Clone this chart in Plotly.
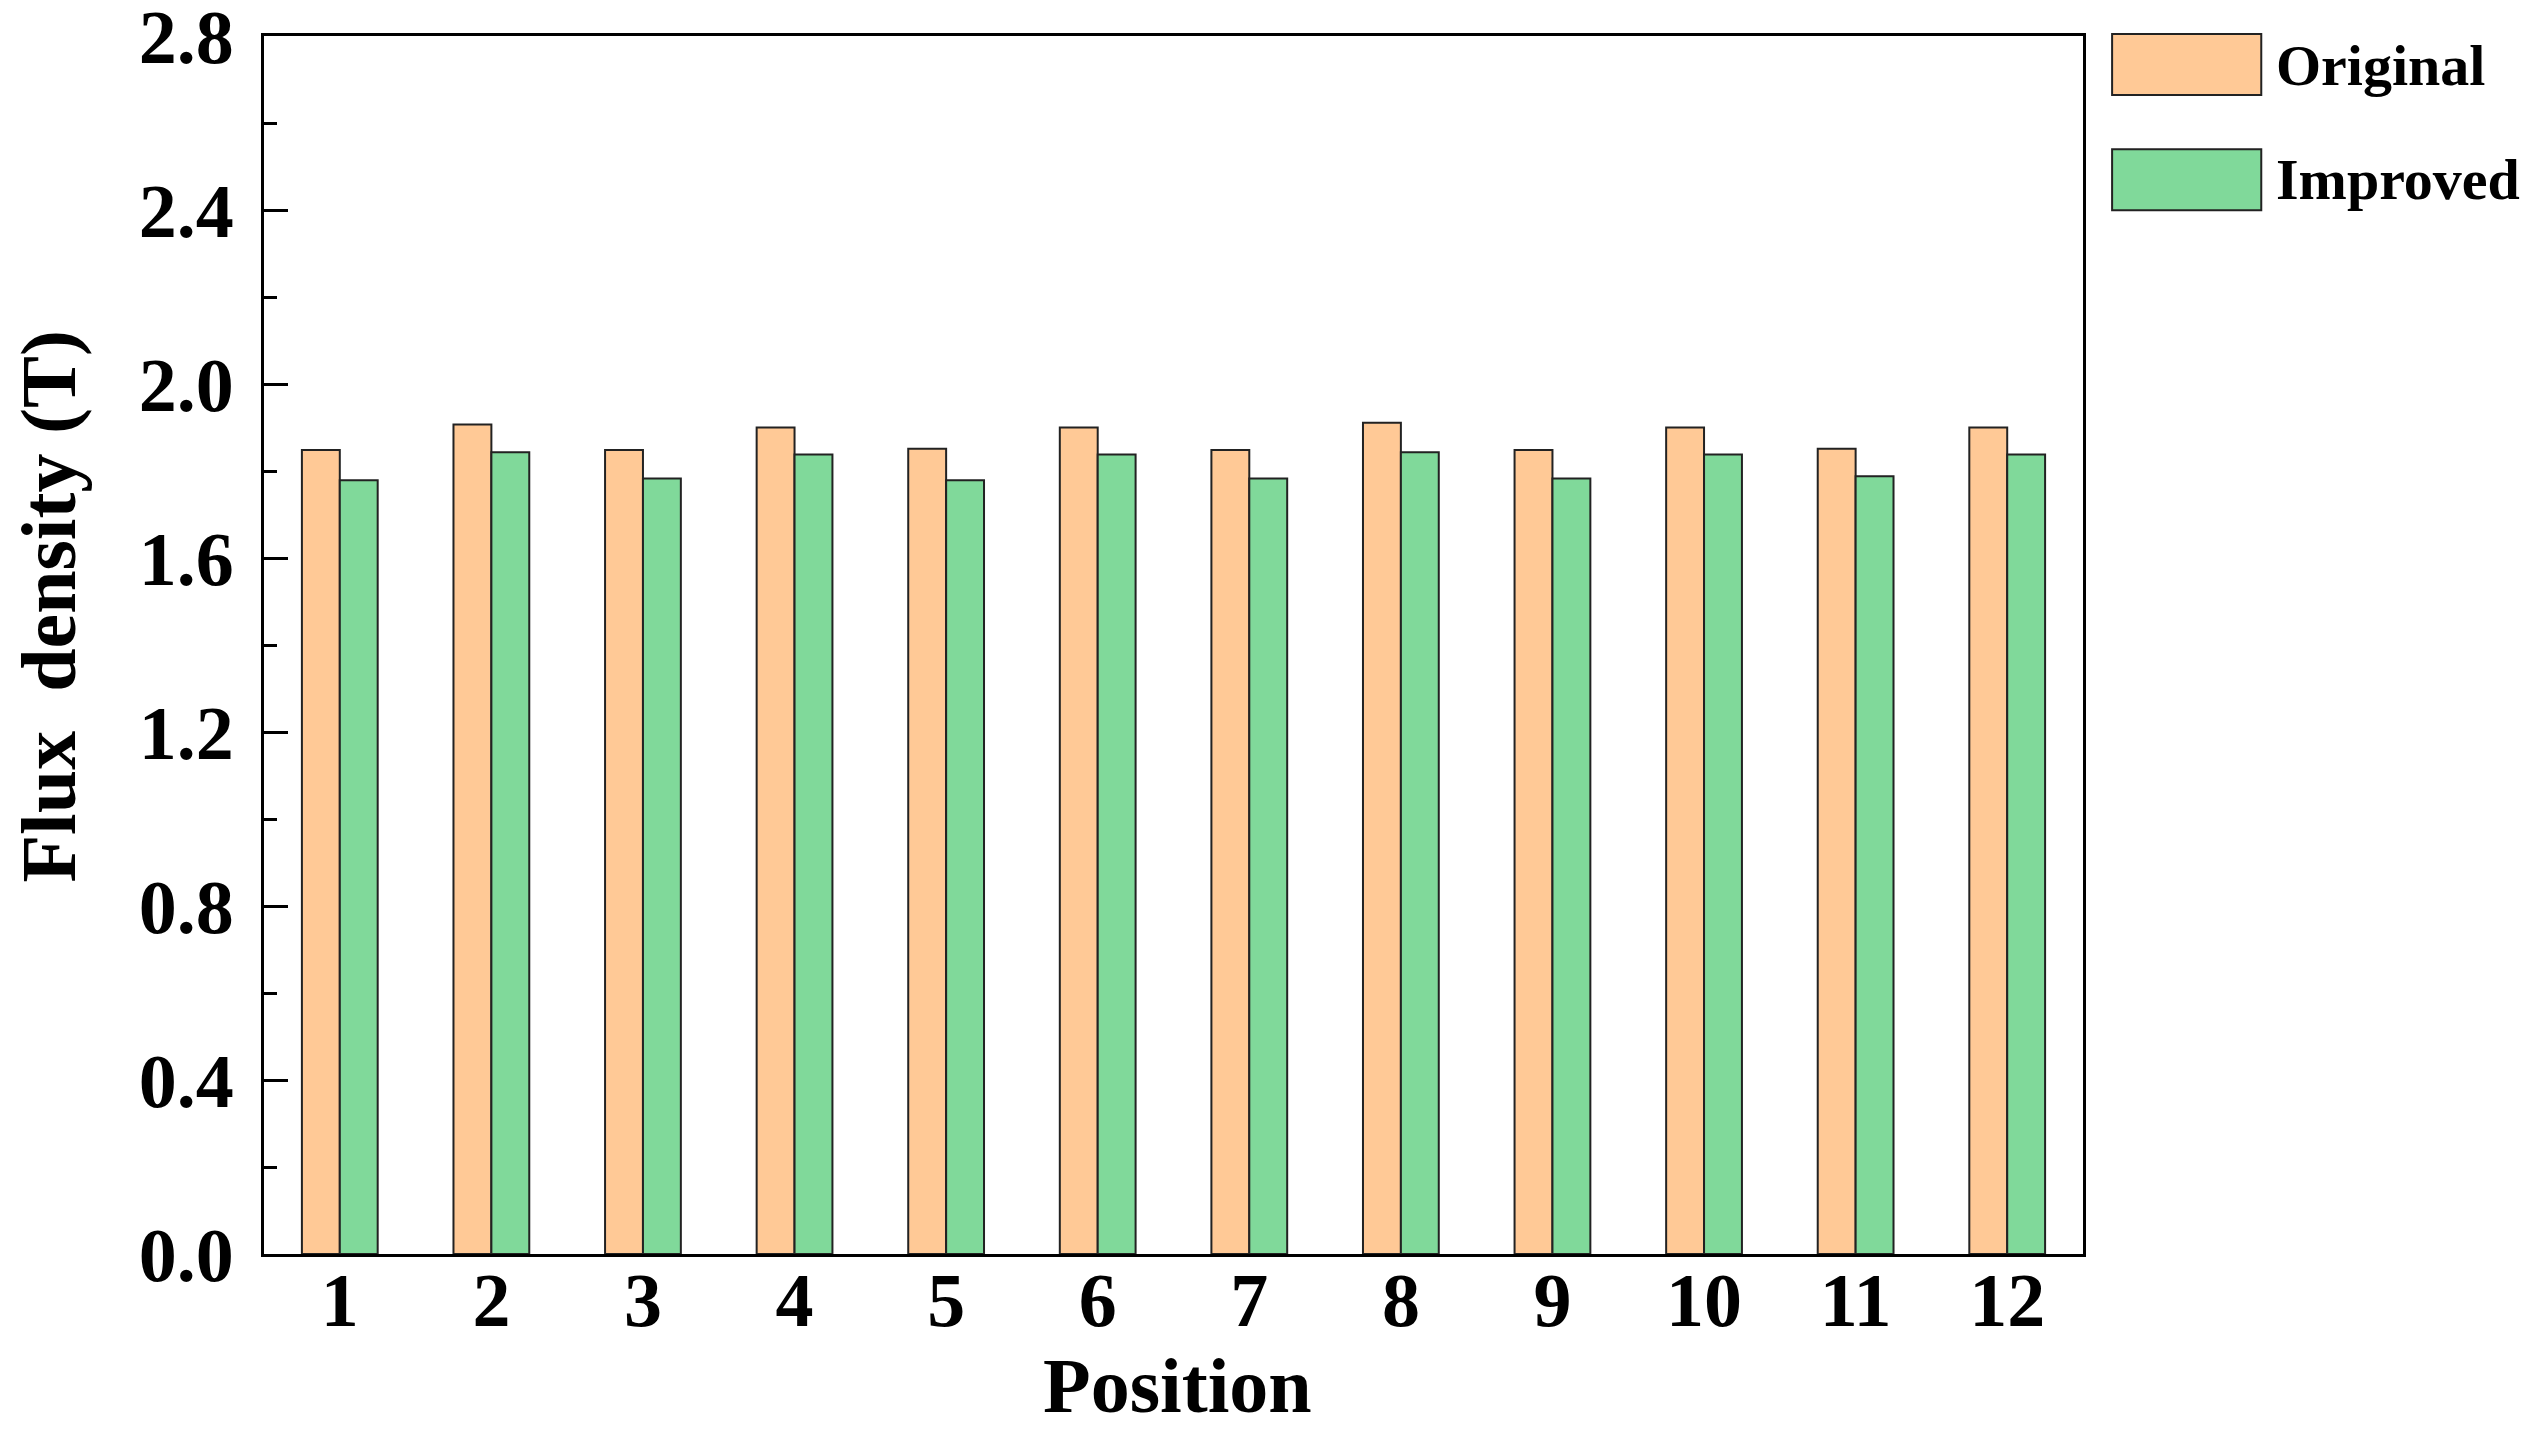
import plotly.graph_objects as go

positions = [str(i) for i in range(1, 13)]
original = [1.848, 1.907, 1.848, 1.900, 1.851, 1.900, 1.848, 1.911, 1.848, 1.900, 1.851, 1.900]
improved = [1.779, 1.843, 1.783, 1.838, 1.779, 1.838, 1.783, 1.843, 1.783, 1.838, 1.788, 1.838]
series_names = ["Original", "Improved"]
colors = ["#FFC996", "#80D99A"]
y_ticks = [0.0, 0.4, 0.8, 1.2, 1.6, 2.0, 2.4, 2.8]

FONT = "Liberation Serif"

fig = go.Figure()
for name, vals, col in zip(series_names, [original, improved], colors):
    fig.add_trace(go.Bar(x=positions, y=vals, name=name, marker_color=col,
                         marker_line=dict(color="#222222", width=2),
                         showlegend=False))

# legend drawn by hand so the swatches can be big like the original
leg = [(0.9516, 1.0016, 0.976, "Original"), (0.857, 0.907, 0.882, "Improved")]
for (y0, y1, yt, label), col in zip(leg, colors):
    fig.add_shape(type="rect", xref="paper", yref="paper",
                  x0=1.016, x1=1.098, y0=y0, y1=y1,
                  fillcolor=col, line=dict(color="#222222", width=2))
    fig.add_annotation(x=1.105, y=yt, xref="paper", yref="paper", text="<b>" + label + "</b>",
                       showarrow=False, xanchor="left", yanchor="middle",
                       font=dict(family=FONT, size=58, color="black"))

# axis titles as annotations (the y title sits a bit above centre in the original)
fig.add_annotation(x=-0.119, y=0.532, xref="paper", yref="paper", text="<b>Flux  density (T)</b>",
                   textangle=-90, showarrow=False, xanchor="center", yanchor="middle", borderpad=0,
                   font=dict(family=FONT, size=78, color="black"))
fig.add_annotation(x=0.502, y=-0.108, xref="paper", yref="paper", text="<b>Position</b>",
                   showarrow=False, xanchor="center", yanchor="middle",
                   font=dict(family=FONT, size=78, color="black"))

# page body has an 8px margin, so margins are trimmed by 8 on the top/left
fig.update_layout(
    width=2538, height=1431,
    margin=dict(l=256, r=463, t=28, b=185),
    plot_bgcolor="white", paper_bgcolor="white",
    barmode="group", bargap=0.5, bargroupgap=0,
    font=dict(family=FONT, color="black"),
)
fig.update_xaxes(
    type="category", showgrid=False, ticks="", automargin=False,
    showline=True, linecolor="black", linewidth=3, mirror=True,
    tickfont=dict(family=FONT, size=76, color="black"),
    tickprefix="<b>", ticksuffix="</b>", ticklabelstandoff=-22,
)
fig.update_yaxes(
    range=[0, 2.8], tickmode="array", tickvals=y_ticks, ticktext=["<b>%.1f</b>" % v for v in y_ticks],
    showgrid=False, zeroline=False, automargin=False, ticklabeloverflow="allow",
    ticks="inside", ticklen=24, tickwidth=3, tickcolor="black",
    minor=dict(dtick=0.2, ticks="inside", ticklen=13, tickwidth=3, tickcolor="black"),
    showline=True, linecolor="black", linewidth=3, mirror=True,
    tickfont=dict(family=FONT, size=76, color="black"),
    ticklabelstandoff=12,
)

fig.write_html("out.html")
